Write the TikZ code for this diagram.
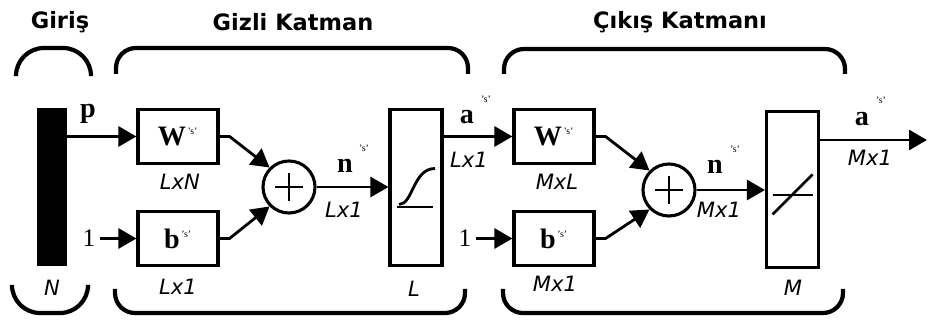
\documentclass[tikz,border=0pt]{standalone}
\usepackage{fontspec}
\setmainfont{Liberation Serif}
\newfontfamily\vsans[ItalicFont={DejaVu Sans Oblique},BoldFont={DejaVu Sans Bold}]{DejaVu Sans}
\usetikzlibrary{arrows.meta}
\newcommand{\lsup}{\textsuperscript{\mdseries\fontsize{7}{7}\selectfont\,'s'}}

\begin{document}
\begin{tikzpicture}[
    x=0.025cm, y=-0.025cm,
    blk/.style={draw, line width=2.2pt, minimum width=2cm, minimum height=1.35cm, inner sep=0pt, font=\fontsize{20}{20}\selectfont\bfseries},
    sumnode/.style={draw, circle, line width=2.2pt, minimum size=1.3cm, inner sep=0pt},
    tfbox/.style={draw, line width=2.2pt, minimum width=1.3cm, minimum height=3.9cm, inner sep=0pt},
    wire/.style={line width=2pt, -{Triangle[length=0.45cm,width=0.5cm]}},
    icon/.style={line width=2pt},
    brk/.style={line width=3pt, rounded corners=0.5cm},
    ttl/.style={font=\vsans\bfseries\fontsize{16}{19}\selectfont},
    dim/.style={font=\vsans\itshape\fontsize{15}{18}\selectfont},
    sym/.style={font=\fontsize{20}{20}\selectfont\bfseries}
]
\useasboundingbox (0,0) rectangle (928,320);

% titles and brackets
\node[ttl] (tIn) at (60,22) {Giriş};
\node[ttl] (tHid) at (293,22) {Gizli Katman};
\node[ttl] (tOut) at (680,22) {Çıkış Katmanı};
\draw[brk, rounded corners=0.7cm] (16,74) -- (16,48) -- (91,48) -- (91,74);
\draw[brk] (116,74) -- (116,48) -- (468,48) -- (468,74);
\draw[brk] (504,74) -- (504,49) -- (845,49) -- (845,74);
\draw[brk, rounded corners=0.7cm] (12,289) -- (12,313) -- (88,313) -- (88,289);
\draw[brk] (115,289) -- (115,313) -- (465,313) -- (465,289);
\draw[brk] (503,289) -- (503,313) -- (843,313) -- (843,289);

% input
\node[fill=black, minimum width=0.75cm, minimum height=3.95cm, inner sep=0pt] (inp) at (52,187) {};
\node[dim] (dN) at (52,288) {N};
\node[sym] (pl) at (88,114) {p};

% hidden layer
\node[blk] (W1) at (178,136.5) {W\lsup};
\node[blk] (b1) at (178,238.5) {b\lsup};
\node[font=\fontsize{18}{18}\selectfont] (one1) at (89,238.5) {1};
\node[dim] (dW1) at (180,182) {LxN};
\node[dim] (db1) at (178,287) {Lx1};
\node[sumnode] (s1) at (289,187) {};
\draw[icon] (s1.center) ++(-14,0) -- ++(28,0);
\draw[icon] (s1.center) ++(0,-14) -- ++(0,28);
\node[sym] (n1) at (345,166) {n};
\node[font=\fontsize{7}{7}\selectfont] (n1s) at (364,148) {'s'};
\node[dim] (dn1) at (344,210) {Lx1};
\node[tfbox] (L) at (416,187.5) {};
\draw[icon] (L.center) ++(-19,19.5) -- ++(36,0);
\draw[icon] (L.center) ++(-17,17) .. controls +(14,0) and +(-22,0) .. ++(36,-36);
\node[dim] (dL) at (414,289) {L};
\node[sym] (a1) at (467,117) {a};
\node[font=\fontsize{7}{7}\selectfont] (a1s) at (486,99) {'s'};
\node[dim] (da1) at (469,160) {Lx1};

% output layer
\node[blk] (W2) at (554,136.5) {W\lsup};
\node[blk] (b2) at (554,238.5) {b\lsup};
\node[font=\fontsize{18}{18}\selectfont] (one2) at (465,238.5) {1};
\node[dim] (dW2) at (557,182) {MxL};
\node[dim] (db2) at (555,284) {Mx1};
\node[sumnode] (s2) at (669,190) {};
\draw[icon] (s2.center) ++(-14,0) -- ++(28,0);
\draw[icon] (s2.center) ++(0,-14) -- ++(0,28);
\node[sym] (n2) at (715,167) {n};
\node[font=\fontsize{7}{7}\selectfont] (n2s) at (735,149) {'s'};
\node[dim] (dn2) at (719,210) {Mx1};
\node[tfbox] (M) at (792.5,189.5) {};
\draw[icon] (M.center) ++(-20,5.5) -- ++(40,0);
\draw[icon] (M.center) ++(-20,25) -- ++(40,-40);
\node[dim] (dM) at (793,288) {M};
\node[sym] (a2) at (862,119) {a};
\node[font=\fontsize{7}{7}\selectfont] (a2s) at (881,100) {'s'};
\node[dim] (da2) at (870,158) {Mx1};
\coordinate (out) at (927,140);

% connections
\draw[wire] (inp.east |- W1.west) -- (W1.west);
\draw[wire] (one1.east) -- (b1.west);
\draw[wire] (W1.east) -- ++(10,0) -- (s1.135);
\draw[wire] (b1.east) -- ++(10,0) -- (s1.225);
\draw[wire] (s1.east) -- (s1.east -| L.west);
\draw[wire] (L.east |- W2.west) -- (W2.west);
\draw[wire] (one2.east) -- (b2.west);
\draw[wire] (W2.east) -- ++(10,0) -- (s2.135);
\draw[wire] (b2.east) -- ++(10,0) -- (s2.225);
\draw[wire] (s2.east) -- (s2.east -| M.west);
\draw[wire] (M.east |- out) -- (out);
\end{tikzpicture}
\end{document}
